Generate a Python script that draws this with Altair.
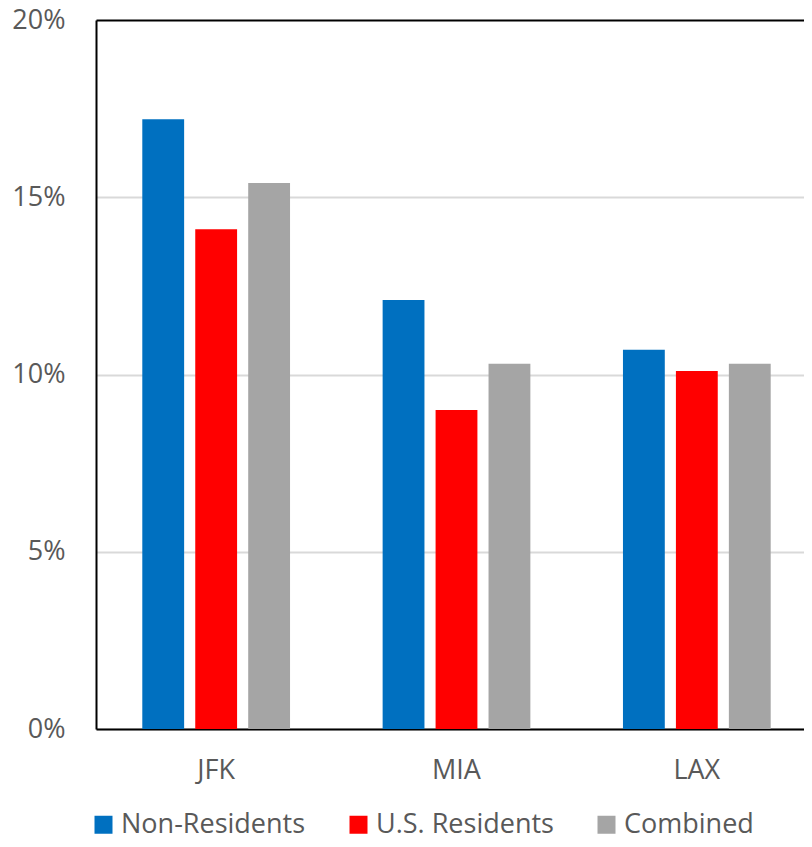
import altair as alt
import pandas as pd

airports = ["JFK", "MIA", "LAX"]
series = ["Non-Residents", "U.S. Residents", "Combined"]
non_residents = [0.172, 0.121, 0.107]
us_residents = [0.141, 0.090, 0.101]
combined = [0.154, 0.103, 0.103]
colors = ["#0070C0", "#FF0000", "#A5A5A5"]
y_ticks = [0, 0.05, 0.10, 0.15, 0.20]

rows = []
for vals, s in zip([non_residents, us_residents, combined], series):
    for a, v in zip(airports, vals):
        rows.append({"airport": a, "series": s, "value": v})
df = pd.DataFrame(rows)

FONT = "Open Sans"
TXT = "#595959"

chart = alt.Chart(df).mark_bar().encode(
    x=alt.X("airport:N", sort=airports, title=None,
            scale=alt.Scale(paddingInner=0.339, paddingOuter=0.1695, range=[0, 721]),
            axis=alt.Axis(labelAngle=0, labelFontSize=27, labelFont=FONT, labelColor=TXT,
                          labelPadding=28, ticks=False, domainColor="black", domainWidth=2,
                          grid=False)),
    xOffset=alt.XOffset("series:N", sort=series,
                        scale=alt.Scale(paddingInner=0.21, paddingOuter=0.105)),
    y=alt.Y("value:Q", title=None,
            scale=alt.Scale(domain=[0, 0.2], nice=False),
            axis=alt.Axis(values=y_ticks, format=".0%", labelFontSize=27, labelFont=FONT,
                          labelColor=TXT, labelPadding=31, ticks=False,
                          domainColor="black", domainWidth=2,
                          gridColor={"condition": {"test": "datum.value >= 0.2", "value": "black"},
                                     "value": "#D9D9D9"},
                          gridWidth=2)),
    color=alt.Color("series:N", sort=series, title=None,
                    scale=alt.Scale(domain=series, range=colors),
                    legend=alt.Legend(orient="none", legendX=-6, legendY=791,
                                      direction="horizontal", symbolType="square",
                                      symbolSize=324, symbolStrokeWidth=0,
                                      labelFontSize=27, labelFont=FONT, labelColor=TXT,
                                      labelLimit=0, labelOffset=4, columnPadding=39,
                                      padding=0)),
).properties(
    width=708, height=709,
    autosize=alt.AutoSizeParams(type="none"),
    padding={"left": 88, "top": 12, "right": 0, "bottom": 110},
).configure_view(stroke=None)

chart.save("out.html", embed_options={"renderer": "svg", "actions": False})
